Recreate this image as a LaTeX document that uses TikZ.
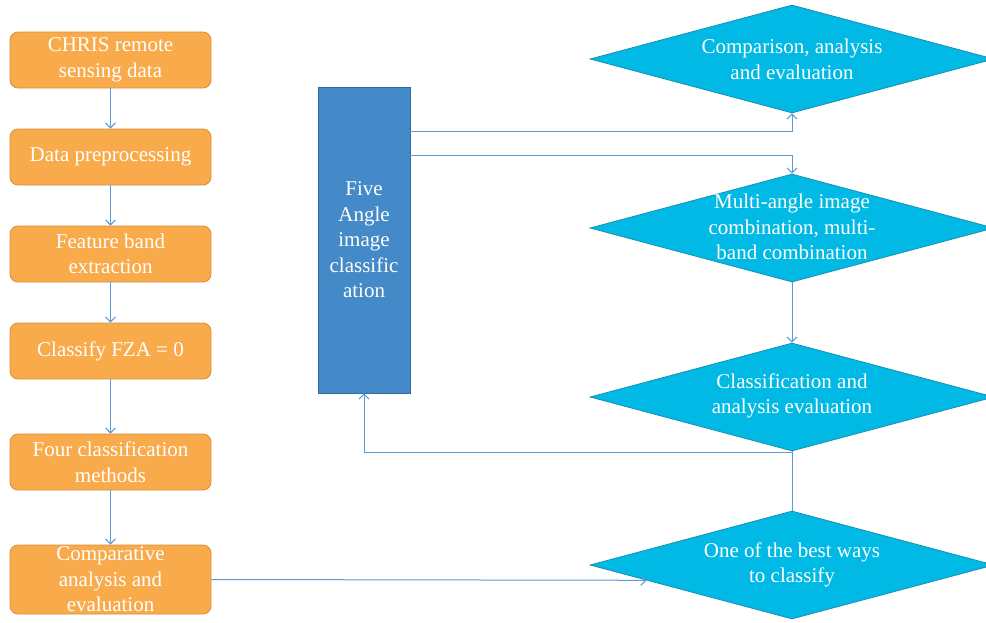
\documentclass[tikz,border=0pt]{standalone}
\usepackage{fontspec}
\setmainfont{Liberation Serif}
\usetikzlibrary{shapes.geometric,arrows.meta}
\definecolor{orfill}{HTML}{F9AB4B}
\definecolor{ordraw}{HTML}{D48F3C}
\definecolor{cyfill}{HTML}{00B9E4}
\definecolor{cydraw}{HTML}{1691B5}
\definecolor{bufill}{HTML}{4489C8}
\definecolor{budraw}{HTML}{2E6AA0}
\definecolor{lncol}{HTML}{5B9BD5}
\begin{document}
\begin{tikzpicture}[x=1pt,y=-1pt,
  txt/.style={text=white,font=\fontsize{21}{25.5}\selectfont,align=center,inner sep=0pt},
  obox/.style={rectangle,rounded corners=8pt,fill=orfill,draw=ordraw,line width=0.8pt,minimum width=201pt,txt},
  dia/.style={diamond,fill=cyfill,draw=cydraw,line width=0.8pt,minimum width=404pt,minimum height=108pt,inner sep=0pt},
  conn/.style={draw=lncol,line width=1pt,-{Straight Barb[length=5pt,width=10pt]}},
  plain/.style={draw=lncol,line width=1pt}]
\useasboundingbox (0,0) rectangle (986,622);
% left column
\node[obox,minimum height=56pt] (b1) at (110.5,60) {CHRIS remote\\sensing data};
\node[obox,minimum height=56pt] (b2) at (110.5,157) {Data preprocessing};
\node[obox,minimum height=56pt] (b3) at (110.5,254) {Feature band\\extraction};
\node[obox,minimum height=56pt] (b4) at (110.5,351) {Classify FZA = 0};
\node[obox,minimum height=56pt] (b5) at (110.5,462) {Four classification\\methods};
\node[obox,minimum height=69pt] (b6) at (110.5,579.5) {Comparative\\analysis and\\evaluation};
% blue rectangle
\node[rectangle,fill=bufill,draw=budraw,line width=0.8pt,minimum width=92pt,minimum height=306pt,txt] (r) at (364,240) {Five\\Angle\\image\\classific\\ation};
% diamonds
\node[dia] (d1) at (792,59) {};
\node[txt] (t1) at (792,59.5) {Comparison, analysis\\and evaluation};
\node[dia] (d2) at (792,228) {};
\node[txt] (t2) at (792,227) {Multi-angle image\\combination, multi-\\band combination};
\node[dia] (d3) at (792,397) {};
\node[txt] (t3) at (792,396) {Classification and\\analysis evaluation};
\node[dia] (d4) at (792,565) {};
\node[txt] (t4) at (792,565) {One of the best ways\\to classify};
% connectors
\draw[conn] (b1) -- (b2);
\draw[conn] (b2) -- (b3);
\draw[conn] (b3) -- (b4);
\draw[conn] (b4) -- (b5);
\draw[conn] (b5) -- (b6);
\coordinate (r1) at (r.east |- 0,131);
\coordinate (r2) at (r.east |- 0,155);
\coordinate (fbk) at (r.south |- 0,452);
\draw[conn] (r1) -| (d1.south);
\draw[conn] (r2) -| (d2.north);
\draw[conn] (d2.south) -- (d3.north);
\draw[plain] (d3.south) -- (d4.north);
\draw[conn] (d3.south) |- (fbk) -- (r.south);
\draw[conn] (b6.east) -- (d4.186);
\end{tikzpicture}
\end{document}
